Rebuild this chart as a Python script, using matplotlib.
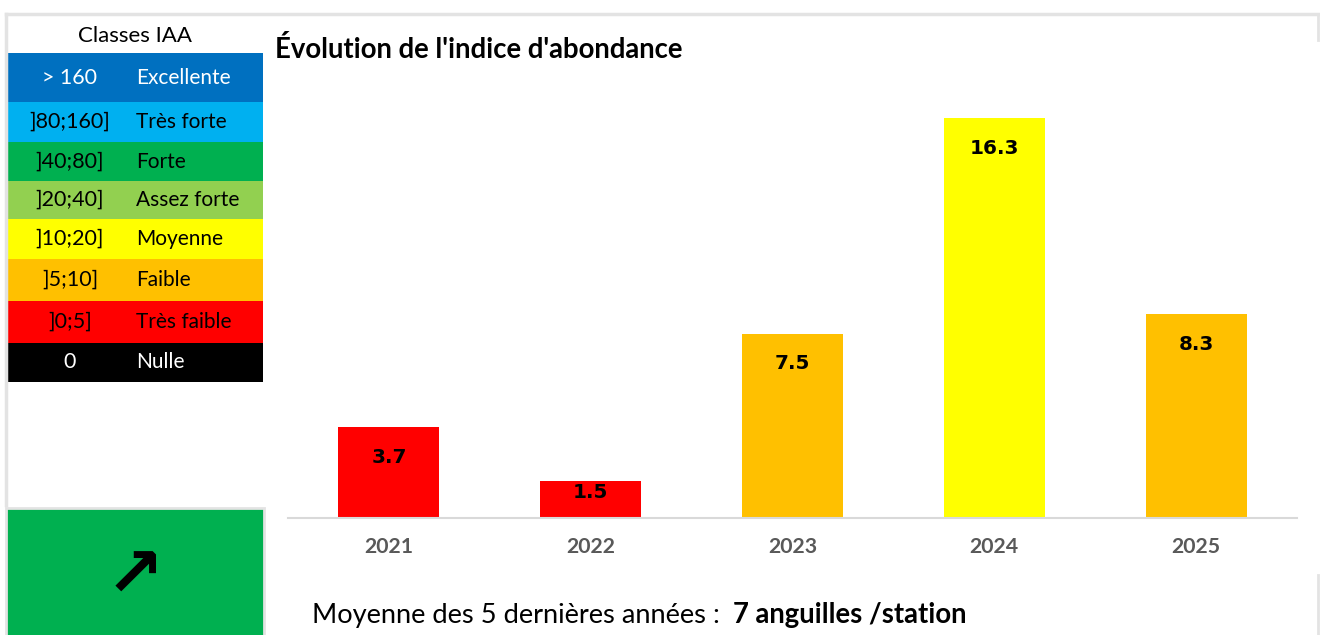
import matplotlib
matplotlib.use("Agg")
import matplotlib.pyplot as plt
from matplotlib.patches import Rectangle

# data
years = ["2021", "2022", "2023", "2024", "2025"]
values = [3.7, 1.5, 7.5, 16.3, 8.3]
bar_colors = ["#ff0000", "#ff0000", "#ffc000", "#ffff00", "#ffc000"]

class_ranges = ["> 160", "]80;160]", "]40;80]", "]20;40]", "]10;20]", "]5;10]", "]0;5]", "0"]
class_names = ["Excellente", "Très forte", "Forte", "Assez forte", "Moyenne", "Faible", "Très faible", "Nulle"]
class_colors = ["#0070c0", "#00b0f0", "#00b050", "#92d050", "#ffff00", "#ffc000", "#ff0000", "#000000"]
class_text = ["white", "black", "black", "black", "black", "black", "black", "white"]
row_edges = [53, 102, 142, 181, 219, 259, 301, 343, 382]

mean_label = "Moyenne des 5 dernières années : "
mean_value = "7 anguilles /station"
trend_arrow = "↗"

W, H = 1320, 635
FONT = "Lato"

fig = plt.figure(figsize=(W / 100, H / 100), dpi=100)
fig.patch.set_facecolor("white")


def px(x0, y0, x1, y1):
    return [x0 / W, 1 - y1 / H, (x1 - x0) / W, (y1 - y0) / H]


# background layer in pixel coords
bg = fig.add_axes([0, 0, 1, 1])
bg.set_xlim(0, W)
bg.set_ylim(H, 0)
bg.axis("off")

gray = "#e3e3e3"
bg.plot([6, W], [14, 14], color=gray, lw=2.5)
bg.plot([6, 6], [14, 505], color=gray, lw=2.5)
bg.plot([W - 2, W - 2], [14, 40], color=gray, lw=2)
bg.plot([W - 2, W - 2], [575, H], color=gray, lw=2)

# legend table
bg.text(135, 36, "Classes IAA", ha="center", va="center", fontsize=16, family=FONT)
for i in range(len(class_ranges)):
    y0, y1 = row_edges[i], row_edges[i + 1]
    bg.add_patch(Rectangle((8, y0), 255, y1 - y0, color=class_colors[i], lw=0))
    yc = (y0 + y1) / 2
    bg.text(70, yc, class_ranges[i], ha="center", va="center", fontsize=15.5,
            family=FONT, color=class_text[i])
    bg.text(136, yc, class_names[i], ha="left", va="center", fontsize=15,
            family=FONT, color=class_text[i])

# trend box
bg.add_patch(Rectangle((6, 508), 258, 130, facecolor="#00b050", edgecolor=gray, lw=2))
bg.text(135, 577, trend_arrow, ha="center", va="center", fontsize=50,
        family="DejaVu Sans", fontweight="bold", color="black")

# title
bg.text(275, 49, "Évolution de l'indice d'abondance", ha="left", va="center",
        fontsize=19.8, fontweight="bold", family=FONT)

# mean text
bg.text(312, 615, mean_label, ha="left", va="center", fontsize=19.6, family=FONT)
bg.text(733, 615, mean_value, ha="left", va="center", fontsize=19.8,
        fontweight="bold", family=FONT)

# bar chart
ax = fig.add_axes(px(288, 100, 1297, 518))
ppu = 400 / 16.3  # pixels per unit
ax.set_ylim(0, 418 / ppu)
ax.set_xlim(-0.5, len(years) - 0.5)
x = range(len(years))
ax.bar(x, values, width=0.5, color=bar_colors)
for i, v in enumerate(values):
    ly = max(v - 30 / ppu, 26 / ppu)
    ax.text(i, ly, f"{v:.1f}", ha="center", va="center", fontsize=14.4,
            fontweight="bold", family="DejaVu Sans")
ax.set_xticks(list(x))
ax.set_xticklabels(years, fontsize=15.3, fontweight="bold", color="#595959", family=FONT)
ax.tick_params(axis="x", length=0, pad=14)
ax.set_yticks([])
for s in ["top", "right", "left"]:
    ax.spines[s].set_visible(False)
ax.spines["bottom"].set_color("#d9d9d9")
ax.spines["bottom"].set_linewidth(1.5)
ax.patch.set_alpha(0)

fig.savefig("out.png", dpi=100)
